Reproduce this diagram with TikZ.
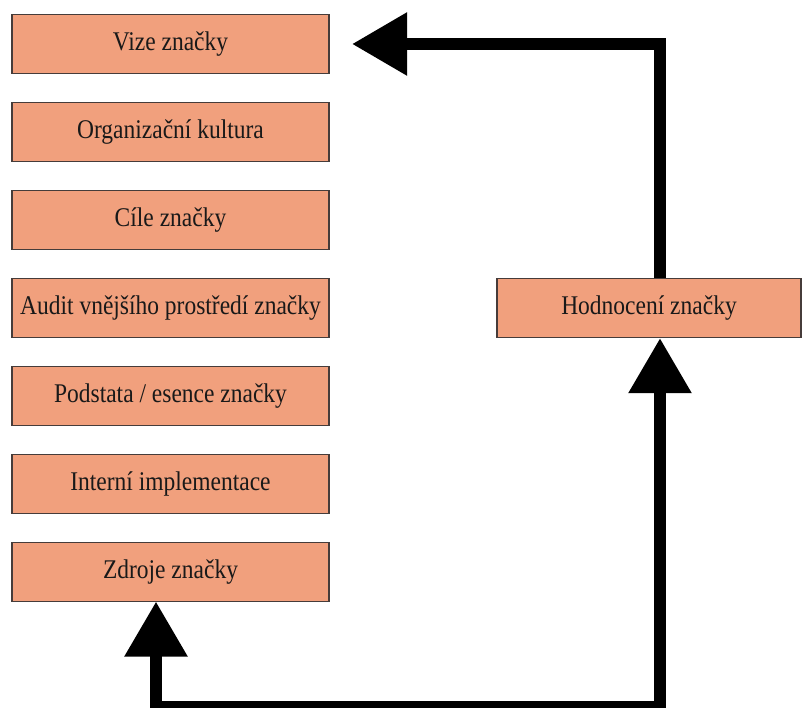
\documentclass[tikz,border=0pt]{standalone}
\usepackage{fontspec}
\newfontfamily\boxfont[FakeStretch=0.87]{Liberation Serif}
\usetikzlibrary{arrows.meta}
\definecolor{boxfill}{RGB}{241,160,125}
\definecolor{boxline}{RGB}{70,60,58}
\tikzset{
  x=1pt, y=-1pt,
  stepbox/.style={draw=boxline, line width=1.2pt, fill=boxfill,
    minimum width=317pt, minimum height=59pt, inner sep=0pt,
    font=\boxfont\fontsize{27}{32}\selectfont, text=black!90},
  conn/.style={line width=12pt, line join=miter, black,
    arrows={-Triangle[length=55pt, width=60pt]}},
  bothconn/.style={conn, arrows={Triangle[length=55pt, width=60pt]-Triangle[length=55pt, width=60pt]}}
}
\begin{document}
\begin{tikzpicture}
\useasboundingbox (0,0) rectangle (803,708);
\clip (0,0) rectangle (803,708);
% left column of steps
\node[stepbox] (vize) at (170.5,44) {Vize značky};
\node[stepbox] (kult) at (170.5,132) {Organizační kultura};
\node[stepbox] (cile) at (170.5,220) {Cíle značky};
\node[stepbox] (audit) at (170.5,308) {Audit vnějšího prostředí značky};
\node[stepbox] (podst) at (170.5,396) {Podstata / esence značky};
\node[stepbox] (impl) at (170.5,484) {Interní implementace};
\node[stepbox] (zdr) at (170.5,572) {Zdroje značky};
% evaluation box on the right
\node[stepbox, minimum width=304pt] (hod) at (649,308) {Hodnocení značky};
% feedback loop
\coordinate (vtip) at (352,44);
\coordinate (ztip) at (156,601.5);
\coordinate (bot) at (660,707);
\draw[conn] (hod.north -| bot) -- (bot |- vize) -- (vtip);
\draw[bothconn] (hod.south -| bot) -- (bot) -- (ztip |- bot) -- (ztip);
\end{tikzpicture}
\end{document}
